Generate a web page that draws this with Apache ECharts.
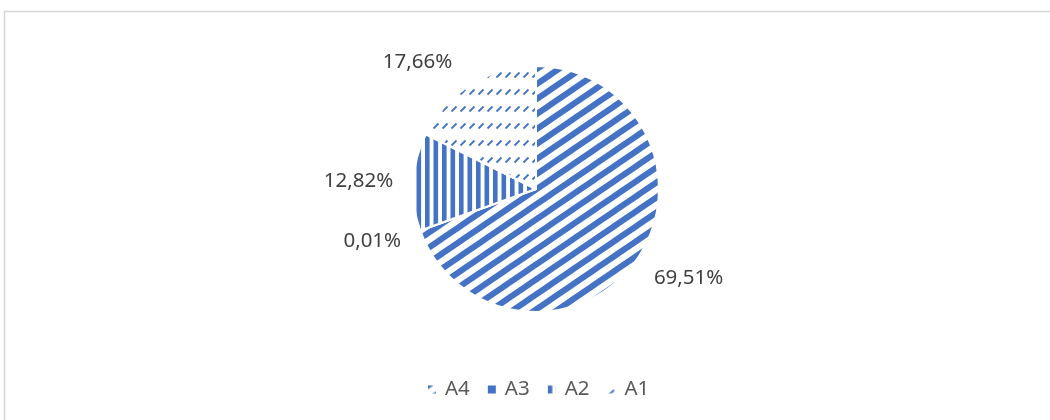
<!DOCTYPE html>
<html>
<head>
<meta charset="utf-8">
<script src="https://cdn.jsdelivr.net/npm/echarts@6/dist/echarts.min.js"></script>
<style>
  html, body { margin: 0; padding: 0; background: #ffffff; }
  #chart { width: 1050px; height: 420px; }
</style>
</head>
<body>
<div id="chart"></div>
<script>
// Shares of each group (percent)
const categories = ['A4', 'A3', 'A2', 'A1'];
const shares = [69.51, 0.01, 12.82, 17.66];

const BLUE = '#4472C4';

// Wide upward diagonal stripes (lines run past the tile so it wraps seamlessly)
function diagonalTile() {
  const w = 22, h = 15;
  const c = document.createElement('canvas');
  c.width = w; c.height = h;
  const g = c.getContext('2d');
  g.strokeStyle = BLUE;
  g.lineWidth = 6;
  for (let k = -2; k <= 2; k++) {
    g.beginPath();
    g.moveTo(k * w - w, 2 * h);
    g.lineTo(k * w + 2 * w, -h);
    g.stroke();
  }
  return c;
}

// Wide vertical stripes
function verticalTile() {
  const w = 17, h = 4;
  const c = document.createElement('canvas');
  c.width = w; c.height = h;
  const g = c.getContext('2d');
  g.fillStyle = BLUE;
  g.fillRect(0, 0, 4.6, h);
  g.fillRect(8.5, 0, 4.6, h);
  return c;
}

// Dashed upward diagonal
function dashedTile() {
  const w = 9, h = 17;
  const c = document.createElement('canvas');
  c.width = w; c.height = h;
  const g = c.getContext('2d');
  g.strokeStyle = BLUE;
  g.lineWidth = 1.8;
  g.beginPath();
  g.moveTo(1.5, 9.5);
  g.lineTo(6.5, 4.5);
  g.stroke();
  return c;
}

const fills = [
  { image: diagonalTile(), repeat: 'repeat' },
  BLUE,
  { image: verticalTile(), repeat: 'repeat' },
  { image: dashedTile(), repeat: 'repeat' }
];

// Small nudges for the outside labels, per slice
const labelNudge = [[0, 10], [0, 6], [0, 0], [-6, -10]];

const fmt = v => v.toFixed(2).replace('.', ',') + '%';

const chart = echarts.init(document.getElementById('chart'), null, { renderer: 'canvas' });

chart.setOption({
  animation: false,
  backgroundColor: '#ffffff',
  graphic: [{
    type: 'rect',
    silent: true,
    shape: { x: 4.5, y: 11.5, width: 1100, height: 500 },
    style: { fill: 'none', stroke: '#d6d6d6', lineWidth: 1.5 }
  }],
  legend: {
    data: categories,
    left: 423,
    top: 374,
    itemWidth: 8,
    itemHeight: 8,
    itemGap: 18,
    icon: 'rect',
    itemStyle: { borderWidth: 0 },
    textStyle: {
      fontFamily: 'Noto Sans',
      fontSize: 20.5,
      color: '#595959',
      padding: [0, 0, 0, 4]
    }
  },
  series: [{
    type: 'pie',
    center: [536, 189],
    radius: 123,
    startAngle: 90,
    clockwise: true,
    avoidLabelOverlap: false,
    label: {
      show: true,
      position: 'outside',
      fontFamily: 'Noto Sans',
      fontSize: 20.5,
      color: '#404040',
      formatter: p => fmt(p.value),
      distanceToLabelLine: 5
    },
    labelLine: { show: false, length: 15, length2: 0 },
    labelLayout: p => ({ dx: labelNudge[p.dataIndex][0], dy: labelNudge[p.dataIndex][1] }),
    itemStyle: { borderColor: '#ffffff', borderWidth: 2 },
    emphasis: { disabled: true },
    data: categories.map((name, i) => ({
      name,
      value: shares[i],
      itemStyle: { color: fills[i] }
    }))
  }]
});
</script>
</body>
</html>
